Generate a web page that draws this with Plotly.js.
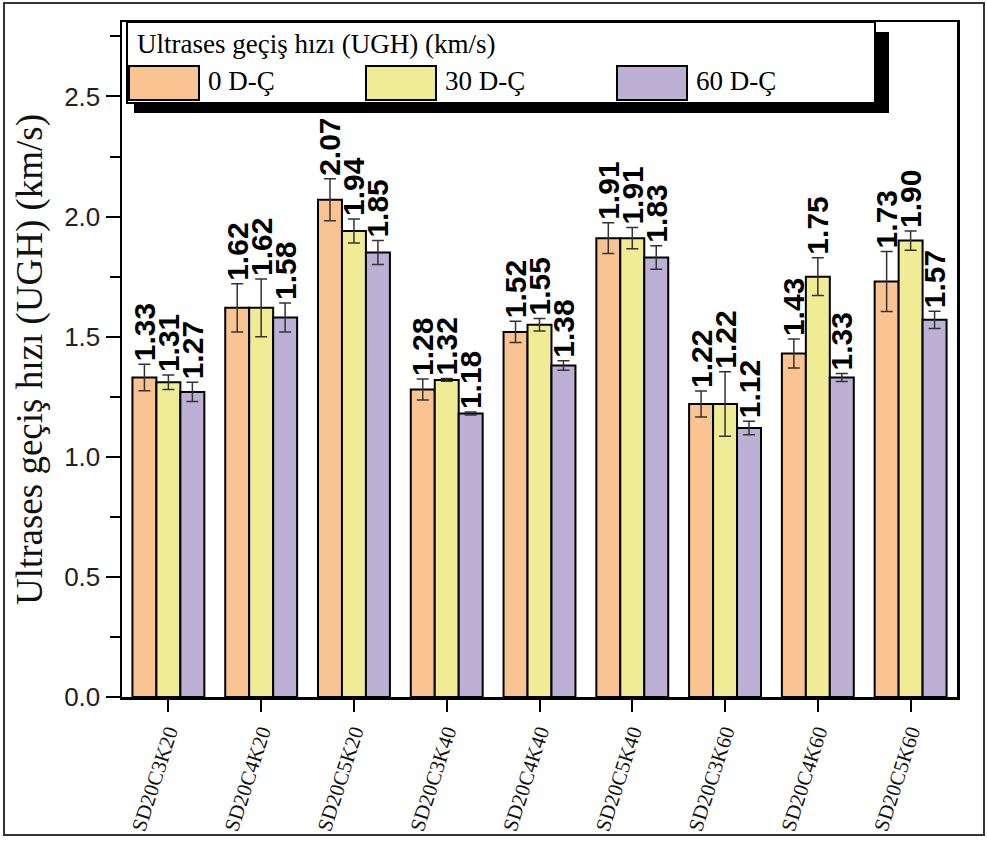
<!DOCTYPE html>
<html>
<head>
<meta charset="utf-8">
<script src="https://cdn.plot.ly/plotly-3.0.1.min.js"></script>
<style>
  html, body { margin: 0; padding: 0; background: #fff; }
  #wrap { position: relative; width: 987px; height: 841px; }
  #chart { position: absolute; left: 0; top: 0; width: 987px; height: 841px; }
  #frame { position: absolute; left: 3px; top: 2px; width: 978px; height: 830px;
           border: 2px solid #333; pointer-events: none; }
</style>
</head>
<body>
<div id="wrap"><div id="chart"></div><div id="frame"></div></div>
<script>
// ---- data ----
const categories = ['SD20C3K20','SD20C4K20','SD20C5K20','SD20C3K40','SD20C4K40','SD20C5K40','SD20C3K60','SD20C4K60','SD20C5K60'];
const seriesNames = ['0 D-Ç','30 D-Ç','60 D-Ç'];
const ugh0  = [1.33, 1.62, 2.07, 1.28, 1.52, 1.91, 1.22, 1.43, 1.73];
const ugh30 = [1.31, 1.62, 1.94, 1.32, 1.55, 1.91, 1.22, 1.75, 1.90];
const ugh60 = [1.27, 1.58, 1.85, 1.18, 1.38, 1.83, 1.12, 1.33, 1.57];
const err0  = [0.055, 0.10, 0.087, 0.044, 0.044, 0.064, 0.054, 0.06, 0.125];
const err30 = [0.03, 0.12, 0.05, 0.006, 0.026, 0.044, 0.134, 0.079, 0.04];
const err60 = [0.04, 0.06, 0.05, 0.006, 0.02, 0.049, 0.028, 0.017, 0.036];
const legendTitle = 'Ultrases geçiş hızı (UGH) (km/s)';
const yTitle = 'Ultrases geçiş hızı (UGH) (km/s)';

// ---- styles ----
const colors = ['#F9C491', '#F0EC96', '#BEB0D5'];
const values = [ugh0, ugh30, ugh60];
const errors = [err0, err30, err60];

const W = 987, H = 841;
const M = {l: 122, r: 30, t: 22, b: 144};
const PW = W - M.l - M.r, PH = H - M.t - M.b;
const px = x => (x - M.l) / PW;
const py = y => (H - M.b - y) / PH;

const traces = [];
values.forEach((v, k) => {
  traces.push({
    type: 'bar', x: categories, y: v, name: seriesNames[k],
    offsetgroup: 'g' + k, showlegend: false,
    marker: {color: colors[k], line: {color: '#000', width: 2}},
    error_y: {type: 'data', array: errors[k], visible: true, color: '#333', thickness: 1.5, width: 6},
    hoverinfo: 'skip'
  });
});
// value labels placed above the error bar tops
values.forEach((v, k) => {
  traces.push({
    type: 'bar', x: categories, y: v.map((val, i) => val + errors[k][i]),
    offsetgroup: 'g' + k, showlegend: false,
    marker: {color: 'rgba(0,0,0,0)', line: {width: 0}},
    text: v.map(val => val.toFixed(2)), textposition: 'outside', textangle: -90,
    constraintext: 'none', cliponaxis: false,
    textfont: {family: 'Liberation Sans, Arial, sans-serif', size: 30, color: '#000', weight: 'bold'},
    hoverinfo: 'skip'
  });
});

// custom legend (big swatches, drop shadow)
const legX = [129, 366, 617];
const swW = 70;
const shapes = [
  {type: 'rect', xref: 'paper', yref: 'paper', layer: 'above',
   x0: px(134), x1: px(889), y0: py(113), y1: py(32), fillcolor: '#000', line: {width: 0}},
  {type: 'rect', xref: 'paper', yref: 'paper', layer: 'above',
   x0: px(127), x1: px(875), y0: py(103), y1: py(22), fillcolor: '#fff', line: {color: '#000', width: 2}}
];
const annotations = [
  {xref: 'paper', yref: 'paper', x: px(135), y: py(44), xanchor: 'left', yanchor: 'middle',
   text: legendTitle, showarrow: false,
   font: {family: 'Liberation Serif, Times New Roman, serif', size: 27, color: '#000'}}
];
seriesNames.forEach((n, k) => {
  shapes.push({type: 'rect', xref: 'paper', yref: 'paper', layer: 'above',
    x0: px(legX[k]), x1: px(legX[k] + swW), y0: py(100), y1: py(66),
    fillcolor: colors[k], line: {color: '#000', width: 2}});
  annotations.push({xref: 'paper', yref: 'paper', x: px(legX[k] + swW + 7), y: py(81),
    xanchor: 'left', yanchor: 'middle', text: n, showarrow: false,
    font: {family: 'Liberation Serif, Times New Roman, serif', size: 27, color: '#000'}});
});

const layout = {
  width: W, height: H,
  margin: M,
  paper_bgcolor: 'rgba(0,0,0,0)', plot_bgcolor: '#fff',
  barmode: 'group', bargap: 0.225, bargroupgap: 0,
  showlegend: false,
  xaxis: {
    type: 'category', range: [-0.5, 8.5],
    showline: true, mirror: true, linecolor: '#000', linewidth: 2.5,
    ticks: 'outside', ticklen: 12, tickwidth: 2, tickcolor: '#000',
    tickangle: -72,
    tickfont: {family: 'Liberation Serif, Times New Roman, serif', size: 21, color: '#111'},
    showgrid: false, zeroline: false
  },
  yaxis: {
    range: [0, 2.81],
    tickvals: [0, 0.5, 1.0, 1.5, 2.0, 2.5], tickformat: '.1f',
    showline: true, mirror: true, linecolor: '#000', linewidth: 2.5,
    ticks: 'outside', ticklen: 14, tickwidth: 2, tickcolor: '#000',
    minor: {tickvals: [0.25, 0.75, 1.25, 1.75, 2.25, 2.75], ticks: 'outside', ticklen: 10, tickwidth: 2, tickcolor: '#000', showgrid: false},
    tickfont: {family: 'Liberation Sans, Arial, sans-serif', size: 26, color: '#222'},
    showgrid: false, zeroline: false,
    title: {text: yTitle, standoff: 10,
      font: {family: 'Liberation Serif, Times New Roman, serif', size: 37, color: '#111'}}
  },
  shapes: shapes,
  annotations: annotations
};

Plotly.newPlot('chart', traces, layout, {displayModeBar: false, staticPlot: true});
</script>
</body>
</html>
